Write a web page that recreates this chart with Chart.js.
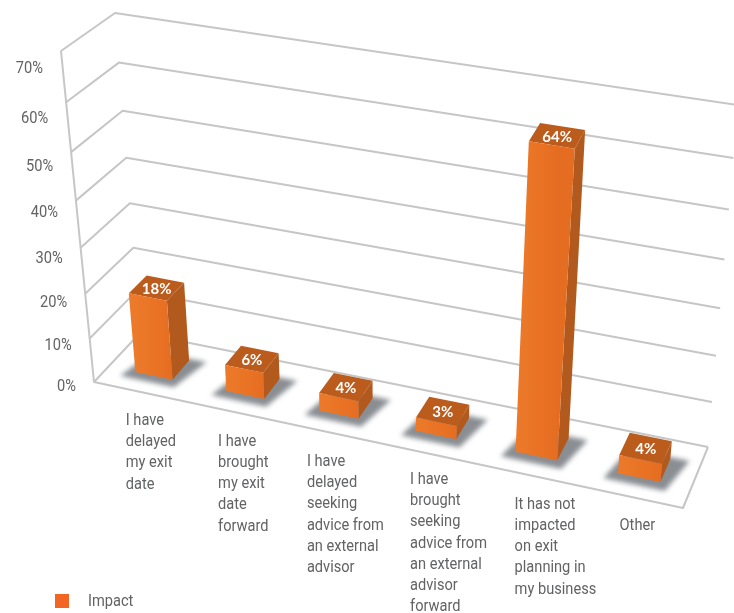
<!DOCTYPE html>
<html>
<head>
    <title>Impact on exit planning</title>
    <script src="https://cdn.jsdelivr.net/npm/chart.js"></script>
    <style>
        html, body { margin: 0; background: #fff; }
        canvas { display: block; }
    </style>
</head>
<body>
<canvas id="impactChart" width="734" height="613"></canvas>

<script>
const categories = [
    ['I have', 'delayed', 'my exit', 'date'],
    ['I have', 'brought', 'my exit', 'date', 'forward'],
    ['I have', 'delayed', 'seeking', 'advice from', 'an external', 'advisor'],
    ['I have', 'brought', 'seeking', 'advice from', 'an external', 'advisor', 'forward'],
    ['It has not', 'impacted', 'on exit', 'planning in', 'my business'],
    ['Other']
];
const impactValues = [18, 6, 4, 3, 64, 4];
const seriesName = 'Impact';
const yMax = 70;
const yStep = 10;

const textFont = '17px Roboto, sans-serif';
const textNarrow = 0.86;
const textColor = '#626365';
const gridColor = '#c6c6c6';

// corners of the 3D box the flat chart area gets projected on
const box = {
    fl: [94, 382], fr: [683, 508], bl: [140, 333], br: [708, 447],
    ftl: [61, 51], ftr: [719, 156], btl: [115, 13], btr: [738, 105]
};
const perspective = 0.1;   // heights stretch a bit going up
const bow = 0.022;         // same idea along the category axis
const barDepth = [0.32, 0.7];
const labelShiftX = [-14, -14, -20, -15, -12, -11];
const labelShiftY = [29, 30, 30, 27, 30, 29];

const lerp = (a, b, t) => [a[0] + (b[0] - a[0]) * t, a[1] + (b[1] - a[1]) * t];

// u along categories, v up the value axis, d from front (0) to back (1)
function project(u, v, d) {
    const s = u - bow * Math.sin(Math.PI * u);
    const bottom = lerp(lerp(box.fl, box.fr, s), lerp(box.bl, box.br, s), d);
    const top = lerp(lerp(box.ftl, box.ftr, s), lerp(box.btl, box.btr, s), d);
    return lerp(bottom, top, v / (1 + perspective * (1 - v)));
}

function toU(chart, px) {
    const a = chart.chartArea;
    return (px - a.left) / (a.right - a.left);
}

function toV(chart, py) {
    const a = chart.chartArea;
    return (a.bottom - py) / (a.bottom - a.top);
}

function poly(ctx, pts, fill) {
    ctx.beginPath();
    pts.forEach((p, i) => i ? ctx.lineTo(p[0], p[1]) : ctx.moveTo(p[0], p[1]));
    ctx.closePath();
    ctx.fillStyle = fill;
    ctx.fill();
}

function segments(ctx, pts) {
    ctx.beginPath();
    pts.forEach((p, i) => i ? ctx.lineTo(p[0], p[1]) : ctx.moveTo(p[0], p[1]));
    ctx.stroke();
}

// condensed text, none of the installed fonts is narrow enough by itself
function narrowText(ctx, text, x, y) {
    ctx.save();
    ctx.translate(x, y);
    ctx.scale(textNarrow, 1);
    ctx.fillText(text, 0, 0);
    ctx.restore();
}

// bar element drawn as a box standing on the floor of the chart
class Box3dElement extends Chart.BarElement {
    draw(ctx) {
        const { x, y, base, width } = this.getProps(['x', 'y', 'base', 'width']);
        const chart = this.$chart;
        const u0 = toU(chart, x - width / 2);
        const u1 = toU(chart, x + width / 2);
        const v = toV(chart, y);
        const v0 = toV(chart, base);
        const [d0, d1] = barDepth;

        // floor shadow
        ctx.save();
        ctx.filter = 'blur(2.5px)';
        poly(ctx, [
            project(u0 - 0.018, v0, d0 - 0.12),
            project(u1 + 0.012, v0, d0 - 0.12),
            project(u1 + 0.03, v0, d1 + 0.03),
            project(u0, v0, d1 + 0.03)
        ], '#8a8e93');
        ctx.restore();

        const a = project(u0, v0, d0), b = project(u1, v0, d0);
        const c = project(u1, v, d0), e = project(u0, v, d0);
        const f = project(u1, v0, d1), g = project(u1, v, d1), h = project(u0, v, d1);

        poly(ctx, [b, f, g, c], '#b25a1e');
        poly(ctx, [e, c, g, h], '#bb5c1d');
        const front = ctx.createLinearGradient(a[0], 0, b[0], 0);
        front.addColorStop(0, '#ec7a2a');
        front.addColorStop(0.6, '#e97224');
        front.addColorStop(1, '#e46d22');
        poly(ctx, [a, b, c, e], front);
    }
}
Box3dElement.id = 'box3d';
Box3dElement.defaults = { ...Chart.BarElement.defaults };

class Box3dController extends Chart.BarController {
    updateElements(bars, start, count, mode) {
        super.updateElements(bars, start, count, mode);
        bars.forEach(b => { b.$chart = this.chart; });
    }
}
Box3dController.id = 'box3d';
Box3dController.defaults = { ...Chart.BarController.defaults, dataElementType: 'box3d' };

Chart.register(Box3dElement, Box3dController);

// walls, floor, axis texts and the legend all go through the same projection
const boxFrame = {
    id: 'boxFrame',
    beforeDatasetsDraw(chart) {
        const ctx = chart.ctx;
        const yScale = chart.scales.y;
        const xScale = chart.scales.x;

        ctx.save();
        ctx.strokeStyle = gridColor;
        ctx.lineWidth = 2;
        ctx.lineJoin = 'round';
        yScale.ticks.forEach(t => {
            const v = toV(chart, yScale.getPixelForValue(t.value));
            segments(ctx, [project(0, v, 0), project(0, v, 1), project(1, v, 1)]);
        });
        segments(ctx, [project(0, 1, 0), project(0, 0, 0), project(1, 0, 0), project(1, 0, 1)]);
        ctx.restore();

        ctx.save();
        ctx.fillStyle = textColor;
        ctx.font = textFont;
        ctx.textBaseline = 'middle';
        ctx.textAlign = 'right';
        yScale.ticks.forEach(t => {
            const v = toV(chart, yScale.getPixelForValue(t.value));
            const p = project(0, v, 0);
            narrowText(ctx, t.label, p[0] - 18, p[1] + 5 + 13 * v);
        });

        ctx.textAlign = 'left';
        categories.forEach((lines, i) => {
            const p = project(toU(chart, xScale.getPixelForTick(i)), 0, 0);
            lines.forEach((line, n) => {
                narrowText(ctx, line, p[0] + labelShiftX[i], p[1] + labelShiftY[i] + n * 21.2);
            });
        });

        const ds = chart.data.datasets[0];
        ctx.fillStyle = '#f26522';
        ctx.fillRect(55, 594, 14, 14);
        ctx.fillStyle = textColor;
        narrowText(ctx, ds.label, 88, 602);
        ctx.restore();
    },
    afterDatasetsDraw(chart) {
        const ctx = chart.ctx;
        const meta = chart.getDatasetMeta(0);
        ctx.save();
        ctx.fillStyle = '#fff';
        ctx.font = 'bold 15px Lato, sans-serif';
        ctx.textAlign = 'center';
        ctx.textBaseline = 'middle';
        meta.data.forEach((bar, i) => {
            const p = project(toU(chart, bar.x), toV(chart, bar.y), (barDepth[0] + barDepth[1]) / 2);
            ctx.fillText(impactValues[i] + '%', p[0], p[1] + 1);
        });
        ctx.restore();
    }
};

new Chart(document.getElementById('impactChart'), {
    type: 'box3d',
    data: {
        labels: categories,
        datasets: [{
            label: seriesName,
            data: impactValues,
            backgroundColor: '#e97224',
            categoryPercentage: 1,
            barPercentage: 0.41
        }]
    },
    options: {
        responsive: false,
        animation: false,
        plugins: { legend: { display: false }, tooltip: { enabled: false } },
        scales: {
            x: { type: 'category', offset: true, display: false },
            y: {
                display: false,
                min: 0,
                max: yMax,
                ticks: { stepSize: yStep, callback: v => v + '%' }
            }
        }
    },
    plugins: [boxFrame]
});
</script>
</body>
</html>
